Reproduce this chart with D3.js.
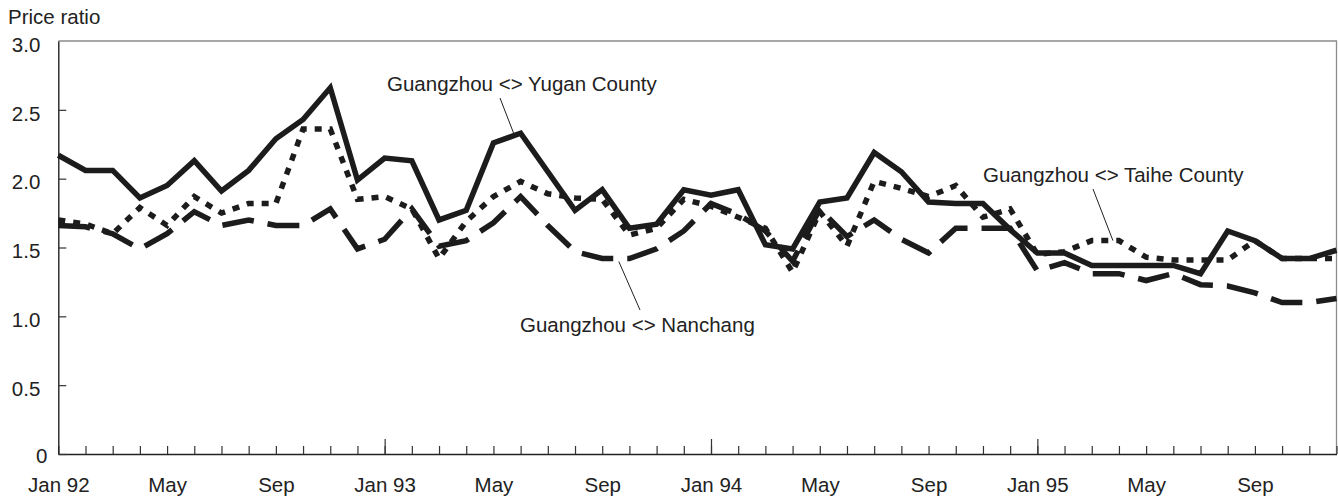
<!DOCTYPE html>
<html><head><meta charset="utf-8">
<script src="https://cdn.jsdelivr.net/npm/d3@7"></script>
<style>
html,body{margin:0;padding:0;background:#fff;}
svg{display:block;font-family:"Liberation Sans",Arial,Helvetica,sans-serif;}
</style></head><body>
<svg id="chart" width="1338" height="497"></svg>
<script>
// ---- data ----
const years = ["92","93","94","95"];
const monthNames = ["Jan","Feb","Mar","Apr","May","Jun","Jul","Aug","Sep","Oct","Nov","Dec"];
const months = years.flatMap(y => monthNames.map(m => m + " " + y));

const yugan = [2.17,2.06,2.06,1.86,1.95,2.13,1.91,2.06,2.29,2.43,2.66,1.99,
               2.15,2.13,1.70,1.77,2.26,2.33,2.05,1.77,1.92,1.64,1.67,1.92,
               1.88,1.92,1.52,1.49,1.83,1.86,2.19,2.05,1.83,1.82,1.82,1.63,
               1.46,1.46,1.37,1.37,1.37,1.37,1.31,1.62,1.55,1.42,1.42,1.48];
const taihe = [1.70,1.67,1.60,1.79,1.66,1.87,1.75,1.82,1.82,2.36,2.36,1.85,
               1.87,1.78,1.42,1.69,1.87,1.98,1.89,1.86,1.85,1.59,1.64,1.85,
               1.80,1.72,1.64,1.32,1.76,1.51,1.98,1.93,1.87,1.95,1.72,1.78,
               1.45,1.47,1.55,1.55,1.43,1.41,1.41,1.41,1.55,1.42,1.42,1.42];
const nanchang = [1.66,1.65,1.60,1.49,1.60,1.76,1.66,1.70,1.66,1.66,1.78,1.49,
                  1.56,1.78,1.51,1.55,1.68,1.87,1.66,1.47,1.42,1.42,1.49,1.62,
                  1.82,1.74,1.62,1.40,1.78,1.58,1.70,1.56,1.46,1.64,1.64,1.64,
                  1.33,1.39,1.31,1.31,1.26,1.31,1.23,1.22,1.17,1.10,1.10,1.13];

const xLabelMonths = ["Jan 92","May 92","Sep 92","Jan 93","May 93","Sep 93","Jan 94","May 94","Sep 94","Jan 95","May 95","Sep 95"];
const xLabelText   = ["Jan 92","May","Sep","Jan 93","May","Sep","Jan 94","May","Sep","Jan 95","May","Sep"];
const janMonths = ["Jan 93","Jan 94","Jan 95"];
const yTicks = [0,0.5,1,1.5,2,2.5,3];
const yTitle = "Price ratio";
const seriesNames = ["Guangzhou <> Yugan County","Guangzhou <> Taihe County","Guangzhou <> Nanchang"];

// ---- layout ----
const L = 58.3, R = 1336.5, T = 41, B = 454;
const FS = "20.5px", TXT = "#222", INK = "#1c1c1c";
const svg = d3.select("#chart");

const x = d3.scalePoint().domain(months).range([L, R]).padding(0);
const y = d3.scaleLinear().domain([0, 3]).range([B, T]);

// frame top/right (gray)
svg.append("path")
  .attr("d", `M${L},${T}H${R}V${B}`)
  .attr("fill","none").attr("stroke","#8c8c8c").attr("stroke-width",1.3);

// x axis: minor ticks
const gxMinor = svg.append("g").attr("transform",`translate(0,${B})`)
  .call(d3.axisBottom(x).tickValues(months).tickSize(-8).tickSizeOuter(0).tickFormat(""));
const gxMajor = svg.append("g").attr("transform",`translate(0,${B})`)
  .call(d3.axisBottom(x).tickValues(janMonths).tickSize(-15).tickSizeOuter(0).tickFormat(""));
gxMajor.select(".domain").remove();
const gxLab = svg.append("g").attr("transform",`translate(0,${B})`)
  .call(d3.axisBottom(x).tickValues(xLabelMonths).tickSize(0).tickPadding(23)
        .tickFormat((d,i) => xLabelText[xLabelMonths.indexOf(d)]));
gxLab.select(".domain").remove();
[gxMinor,gxMajor].forEach(g => {
  g.selectAll("line").attr("stroke","#333").attr("stroke-width",1.2);
});
gxMinor.select(".domain").attr("stroke","#222").attr("stroke-width",1.4);
gxLab.selectAll("text").attr("font-size",FS).attr("fill",TXT)
  .attr("font-family","Liberation Sans, Arial, sans-serif");

// y axis
const gy = svg.append("g").attr("transform",`translate(${L},0)`)
  .call(d3.axisLeft(y).tickValues(yTicks).tickSize(-8).tickSizeOuter(0).tickPadding(18)
        .tickFormat(d => d === 0 ? "0" : d.toFixed(1)));
gy.select(".domain").attr("stroke","#222").attr("stroke-width",1.4);
gy.selectAll("line").attr("stroke","#333").attr("stroke-width",1.2);
gy.selectAll("text").attr("font-size",FS).attr("fill",TXT).attr("dy","0.5em")
  .attr("font-family","Liberation Sans, Arial, sans-serif");
gy.selectAll(".tick").filter(d => d === 0).select("text").attr("x",-11).attr("dy","0.42em");
gy.selectAll(".tick").filter(d => d === 3).select("line").remove();

// y title
svg.append("text").attr("x",8).attr("y",24).attr("font-size",FS).attr("fill",TXT).text(yTitle);

// lines
const line = d3.line().x((d,i) => x(months[i])).y(d => y(d)).curve(d3.curveLinear);
const plot = svg.append("g");
plot.append("path").datum(nanchang).attr("d",line)
  .attr("fill","none").attr("stroke",INK).attr("stroke-width",5.5)
  .attr("stroke-dasharray","32,14").attr("stroke-linejoin","miter");
plot.append("path").datum(taihe).attr("d",line)
  .attr("fill","none").attr("stroke",INK).attr("stroke-width",5.5)
  .attr("stroke-dasharray","7,8").attr("stroke-linejoin","miter");
plot.append("path").datum(yugan).attr("d",line)
  .attr("fill","none").attr("stroke",INK).attr("stroke-width",5.5)
  .attr("stroke-linejoin","miter");

// annotations
const ann = svg.append("g");
function label(txt, tx, ty, x1, y1, x2, y2){
  ann.append("line").attr("x1",x1).attr("y1",y1).attr("x2",x2).attr("y2",y2)
    .attr("stroke","#222").attr("stroke-width",1);
  ann.append("text").attr("x",tx).attr("y",ty).attr("font-size",FS).attr("fill",TXT).text(txt);
}
label(seriesNames[0], 387, 90.5, 500, 98, x(months[17]) - 7, y(yugan[17]));
label(seriesNames[1], 983, 181.5, 1093, 189, x(months[39]) - 6, y(taihe[39]));
label(seriesNames[2], 520, 331.5, 640, 310, (x(months[20]) + x(months[21])) / 2 + 3, y(nanchang[20]) + 3);
</script>
</body></html>
